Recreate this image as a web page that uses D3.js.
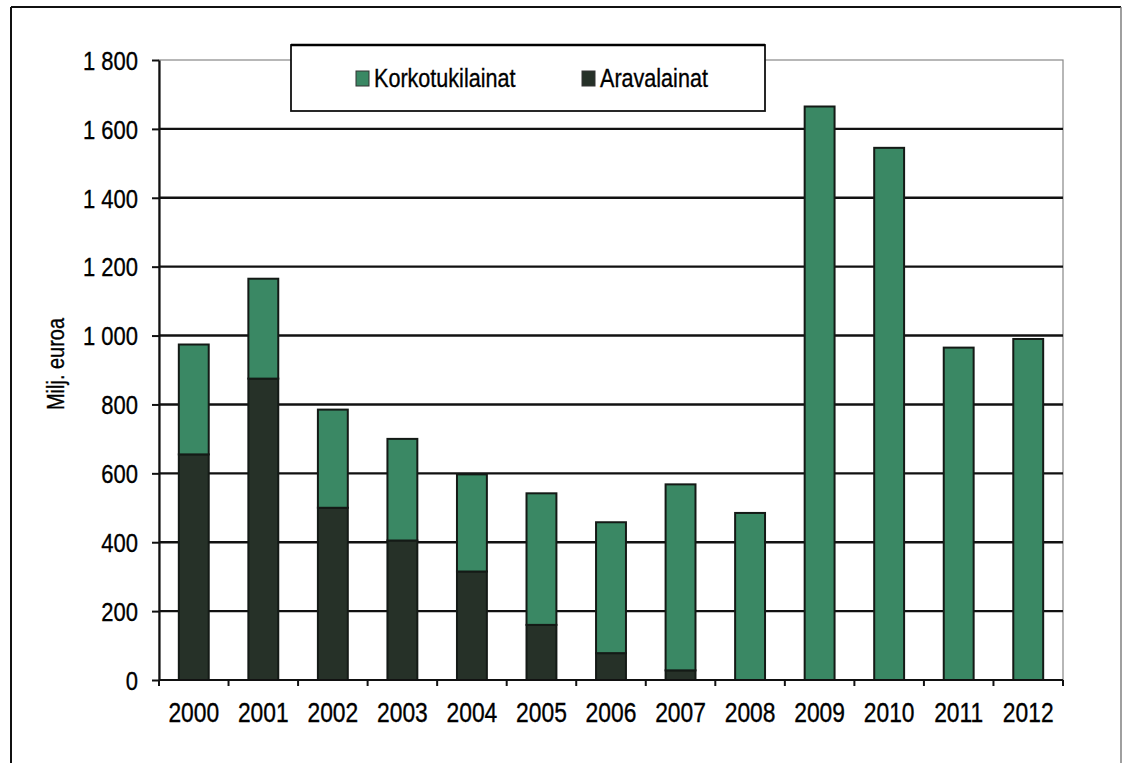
<!DOCTYPE html>
<html>
<head>
<meta charset="utf-8">
<script src="https://cdn.jsdelivr.net/npm/d3@7/dist/d3.min.js"></script>
<style>
  html, body { margin: 0; padding: 0; background: #fff; }
  svg { display: block; }
  text { font-family: "Liberation Sans", Arial, sans-serif; fill: #000; stroke: #000; stroke-width: 0.35px; }
</style>
</head>
<body>
<svg id="chart" width="1124" height="763"></svg>
<script>
// Myönnetyt lainat vuosittain, milj. euroa
const years = ["2000","2001","2002","2003","2004","2005","2006","2007","2008","2009","2010","2011","2012"];
const aravalainat     = [655, 875, 500, 405, 315, 160, 78, 28, 0, 0, 0, 0, 0];
const korkotukilainat = [319, 290, 285, 295, 282, 382, 380, 540, 485, 1665, 1545, 965, 990];
const yTicks = [0, 200, 400, 600, 800, 1000, 1200, 1400, 1600, 1800];
const seriesNames = ["Aravalainat", "Korkotukilainat"];
const seriesColors = ["#263128", "#3a8864"];

const svg = d3.select("#chart");
const plot = { left: 159, right: 1063, top: 60, bottom: 680 };
const squeeze = 0.83; // narrow lettering

const x = d3.scaleBand().domain(years).range([plot.left, plot.right]).paddingInner(0).paddingOuter(0);
const y = d3.scaleLinear().domain([0, 1800]).range([plot.bottom, plot.top]);

const fiLocale = d3.formatLocale({ decimal: ",", thousands: " ", grouping: [3], currency: ["", " €"] });
const fmt = fiLocale.format(",d");

// outer frame
svg.append("line").attr("x1", 11).attr("x2", 1121).attr("y1", 7).attr("y2", 7)
  .attr("stroke", "#111").attr("stroke-width", 2.2);
svg.append("line").attr("x1", 11).attr("x2", 11).attr("y1", 7).attr("y2", 770)
  .attr("stroke", "#111").attr("stroke-width", 2);
svg.append("line").attr("x1", 1121).attr("x2", 1121).attr("y1", 7).attr("y2", 770)
  .attr("stroke", "#777").attr("stroke-width", 1.4);

// plot area border
svg.append("rect")
  .attr("x", plot.left).attr("y", plot.top)
  .attr("width", plot.right - plot.left).attr("height", plot.bottom - plot.top)
  .attr("fill", "none").attr("stroke", "#888").attr("stroke-width", 1.2);

// horizontal gridlines
svg.append("g").selectAll("line")
  .data(yTicks.filter(v => v > 0 && v < 1800))
  .join("line")
  .attr("x1", plot.left).attr("x2", plot.right)
  .attr("y1", d => y(d)).attr("y2", d => y(d))
  .attr("stroke", "#111").attr("stroke-width", 2.4);

// stacked bars
const rows = years.map((yr, i) => ({ year: yr, Aravalainat: aravalainat[i], Korkotukilainat: korkotukilainat[i] }));
const stacked = d3.stack().keys(seriesNames)(rows);
const barW = x.bandwidth() * 0.43;

svg.append("g").selectAll("g")
  .data(stacked)
  .join("g")
  .attr("fill", (d, i) => seriesColors[i])
  .selectAll("rect")
  .data(d => d.filter(s => s[1] - s[0] > 0))
  .join("rect")
  .attr("x", d => x(d.data.year) + (x.bandwidth() - barW) / 2)
  .attr("width", barW)
  .attr("y", d => y(d[1]))
  .attr("height", d => y(d[0]) - y(d[1]))
  .attr("stroke", "#141a16").attr("stroke-width", 2);

// y axis
const yAxis = svg.append("g")
  .attr("transform", `translate(${plot.left},0)`)
  .call(d3.axisLeft(y).tickValues(yTicks).tickFormat(fmt).tickSize(7).tickSizeOuter(0));
yAxis.select(".domain").attr("stroke", "#111").attr("stroke-width", 2.2);
yAxis.selectAll(".tick line").attr("stroke", "#111").attr("stroke-width", 2);
yAxis.selectAll(".tick text")
  .attr("x", null).attr("dy", null)
  .attr("text-anchor", "end")
  .attr("dominant-baseline", "central")
  .attr("transform", `translate(-21,0) scale(${squeeze},1)`)
  .style("font-size", "26.5px")
  .style("font-family", "'Liberation Sans', Arial, sans-serif")
  .attr("fill", "#000");

// x axis baseline and category boundary ticks
svg.append("line")
  .attr("x1", plot.left).attr("x2", plot.right)
  .attr("y1", plot.bottom).attr("y2", plot.bottom)
  .attr("stroke", "#111").attr("stroke-width", 2.2);
const bounds = years.map(d => x(d)).concat([x.range()[1]]);
svg.append("g").selectAll("line")
  .data(bounds)
  .join("line")
  .attr("x1", d => d).attr("x2", d => d)
  .attr("y1", plot.bottom).attr("y2", plot.bottom + 6)
  .attr("stroke", "#111").attr("stroke-width", 2);

const xAxis = svg.append("g")
  .attr("transform", `translate(0,${plot.bottom})`)
  .call(d3.axisBottom(x).tickSize(0));
xAxis.select(".domain").remove();
xAxis.selectAll(".tick text")
  .attr("y", null).attr("dy", null)
  .attr("text-anchor", "middle")
  .attr("transform", `translate(0,42) scale(${squeeze},1)`)
  .style("font-size", "27.5px")
  .style("font-family", "'Liberation Sans', Arial, sans-serif")
  .attr("fill", "#000");

// y axis title
svg.append("text")
  .attr("transform", `translate(64,364) rotate(-90) scale(0.85,1)`)
  .attr("text-anchor", "middle")
  .style("font-size", "23.5px")
  .text("Milj. euroa");

// legend
const legend = svg.append("g");
legend.append("rect")
  .attr("x", 291).attr("y", 45).attr("width", 474).attr("height", 66)
  .attr("fill", "#fff").attr("stroke", "#111").attr("stroke-width", 1.8);
legend.append("line").attr("x1", 291).attr("x2", 765).attr("y1", 45).attr("y2", 45)
  .attr("stroke", "#000").attr("stroke-width", 2.6);

const legendItems = [
  { name: "Korkotukilainat", color: seriesColors[1], x: 356 },
  { name: "Aravalainat", color: seriesColors[0], x: 582 }
];
const li = legend.selectAll("g.item").data(legendItems).join("g").attr("class", "item");
li.append("rect")
  .attr("x", d => d.x).attr("y", 71).attr("width", 13).attr("height", 15)
  .attr("fill", d => d.color).attr("stroke", "#333").attr("stroke-width", 1);
li.append("text")
  .attr("transform", d => `translate(${d.x + 18},87) scale(${squeeze},1)`)
  .style("font-size", "26px")
  .text(d => d.name);
</script>
</body>
</html>
